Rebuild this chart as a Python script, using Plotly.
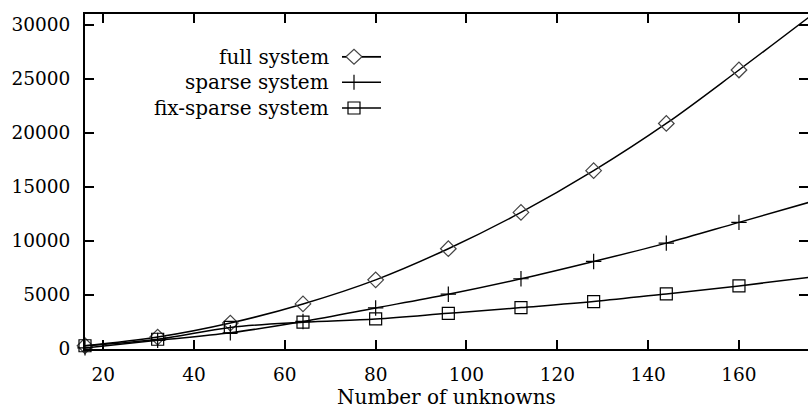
import plotly.graph_objects as go

unknowns = [16, 32, 48, 64, 80, 96, 112, 128, 144, 160, 176]
full_system = [300, 1100, 2400, 4170, 6400, 9280, 12640, 16500, 20870, 25820, 30900]
sparse_system = [100, 800, 1500, 2550, 3800, 5070, 6500, 8100, 9800, 11720, 13640]
fix_sparse_system = [300, 900, 2000, 2480, 2780, 3300, 3830, 4390, 5100, 5840, 6650]

series_names = ["full system", "sparse system", "fix-sparse system"]
x_ticks = [20, 40, 60, 80, 100, 120, 140, 160, 180]
y_ticks = [0, 5000, 10000, 15000, 20000, 25000, 30000]
y_tick_labels = ["0", "5000", "10000", "15000", "20000", "25000", "30000"]

W, H = 808, 413
L, R, T, B = 85, 808, 14, 349
FONT = "DejaVu Serif"
FS_TICK = 18.5
FS_TEXT = 20

fig = go.Figure()
fig.add_trace(go.Scatter(
    x=unknowns, y=full_system, mode="lines+markers", name=series_names[0],
    line=dict(color="black", width=1.5, shape="spline", smoothing=1.0),
    marker=dict(symbol="diamond-open", size=12, color="#444", line=dict(width=1.2, color="#444")),
    cliponaxis=False, showlegend=False))
fig.add_trace(go.Scatter(
    x=unknowns, y=sparse_system, mode="lines+markers", name=series_names[1],
    line=dict(color="black", width=1.5, shape="spline", smoothing=1.0),
    marker=dict(symbol="cross-thin-open", size=11, color="black", line=dict(width=1.2, color="black")),
    cliponaxis=False, showlegend=False))
fig.add_trace(go.Scatter(
    x=unknowns, y=fix_sparse_system, mode="lines+markers", name=series_names[2],
    line=dict(color="black", width=1.5, shape="spline", smoothing=1.0),
    marker=dict(symbol="square-open", size=12, color="black", line=dict(width=1.2, color="black")),
    cliponaxis=False, showlegend=False))
# dummy trace so the right-hand tick axis is drawn
fig.add_trace(go.Scatter(x=[None], y=[None], yaxis="y2", showlegend=False, hoverinfo="skip"))

def px(xp):
    return (xp - L) / (R - L)

def py(yp):
    return (B - yp) / (B - T)

shapes = []
annotations = []
rows = [56.7, 82.3, 108.0]
for i, name in enumerate(series_names):
    yc = rows[i]
    annotations.append(dict(x=px(331), y=py(yc), xref="paper", yref="paper", text=name,
                            showarrow=False, xanchor="right", yanchor="middle",
                            font=dict(family=FONT, size=FS_TEXT, color="black")))
    shapes.append(dict(type="line", xref="paper", yref="paper", x0=px(342), x1=px(381),
                       y0=py(yc), y1=py(yc), line=dict(color="black", width=1.5)))
    cx = 354
    if i == 0:
        path = "M {} {} L {} {} L {} {} L {} {} Z".format(
            px(cx - 8), py(yc), px(cx), py(yc - 7.5), px(cx + 8), py(yc), px(cx), py(yc + 7.5))
        shapes.append(dict(type="path", xref="paper", yref="paper", path=path,
                           fillcolor="white", line=dict(color="#444", width=1.2)))
        shapes.append(dict(type="line", xref="paper", yref="paper", x0=px(342), x1=px(346),
                           y0=py(yc), y1=py(yc), line=dict(color="black", width=1.5)))
        shapes.append(dict(type="line", xref="paper", yref="paper", x0=px(362), x1=px(381),
                           y0=py(yc), y1=py(yc), line=dict(color="black", width=1.5)))
    elif i == 1:
        shapes.append(dict(type="line", xref="paper", yref="paper", x0=px(cx), x1=px(cx),
                           y0=py(yc - 7.5), y1=py(yc + 7.5), line=dict(color="black", width=1.2)))
    else:
        shapes.append(dict(type="rect", xref="paper", yref="paper", x0=px(cx - 6), x1=px(cx + 6),
                           y0=py(yc - 6), y1=py(yc + 6), line=dict(color="black", width=1.2)))

fig.update_layout(
    width=W, height=H,
    margin=dict(l=L, r=W - R, t=T, b=H - B, pad=0),
    paper_bgcolor="white", plot_bgcolor="white",
    font=dict(family=FONT, size=FS_TEXT, color="black"),
    shapes=shapes, annotations=annotations,
    xaxis=dict(range=[16, 175.2], tickvals=x_ticks, ticks="inside", ticklen=9, tickwidth=1.5,
               tickcolor="black", showline=True, linecolor="black", linewidth=2, mirror="ticks",
               showgrid=False, zeroline=False, ticklabelstandoff=8,
               tickfont=dict(family=FONT, size=FS_TICK),
               title=dict(text="Number of unknowns", standoff=3, font=dict(family=FONT, size=FS_TEXT))),
    yaxis=dict(range=[0, 31000], tickvals=y_ticks, ticktext=y_tick_labels, ticks="inside",
               ticklen=9, tickwidth=1.5,
               tickcolor="black", showline=True, linecolor="black", linewidth=2, mirror=False,
               showgrid=False, zeroline=False, ticklabelstandoff=9,
               tickfont=dict(family=FONT, size=FS_TICK)),
    yaxis2=dict(range=[0, 31000], tickvals=y_ticks, overlaying="y", side="right", anchor="x",
                ticks="inside", ticklen=9, tickwidth=1.5, tickcolor="black",
                showticklabels=False, showline=False, showgrid=False, zeroline=False),
)

fig.write_html("out.html")
